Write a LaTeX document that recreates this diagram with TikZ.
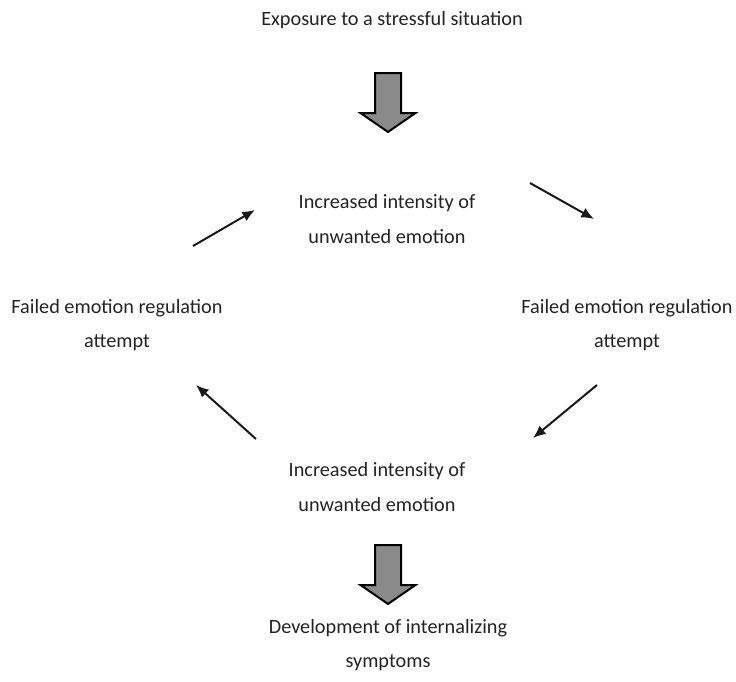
\documentclass[tikz,border=0pt]{standalone}
\usepackage{fontspec}
\setmainfont{Carlito}
\usepackage{xcolor}
\usepackage{tikz}
\usetikzlibrary{arrows.meta, positioning, calc}

\definecolor{arrowgray}{RGB}{138,138,138}
\definecolor{textgray}{RGB}{35,35,35}

\begin{document}
\begin{tikzpicture}[
    x=0.75pt, y=-0.75pt,
    font=\fontsize{15.2}{26}\selectfont,
    label/.style={align=center, text=textgray, inner sep=0pt},
    arrow/.style={-{Latex[length=9.5pt, width=8pt]}, line width=1.5pt, black!90},
    bigarrow/.pic={
        \draw[fill=arrowgray, line width=1.5pt, line join=miter]
            (-13,0) -- (13,0) -- (13,40) -- (27.5,40) -- (0,59)
            -- (-27.5,40) -- (-13,40) -- cycle;
    }
]
\useasboundingbox (0,0) rectangle (736,682);

% Stress at the top
\node[label] (stress) at (392,20) {Exposure to a stressful situation};
\pic at (388,73) {bigarrow};

% Cycle
\node[label] (emoTop) at (387,219) {Increased intensity of\\unwanted emotion};
\node[label] (failRight) at (627,325) {Failed emotion regulation\\attempt};
\node[label] (emoBottom) at (377,487) {Increased intensity of\\unwanted emotion};
\node[label] (failLeft) at (117,325) {Failed emotion regulation\\attempt};

% Arrow ends
\coordinate (a1) at (193,246);
\coordinate (a2) at (255,210);
\coordinate (b1) at (530,183);
\coordinate (b2) at (594,219);
\coordinate (c1) at (597,385);
\coordinate (c2) at (533,438);
\coordinate (d1) at (256,439);
\coordinate (d2) at (196,385);

\draw[arrow] (a1) -- (a2);
\draw[arrow] (b1) -- (b2);
\draw[arrow] (c1) -- (c2);
\draw[arrow] (d1) -- (d2);

% Outcome
\pic at (388,545) {bigarrow};
\node[label] (symptoms) at (388,645) {Development of internalizing\\symptoms};
\end{tikzpicture}
\end{document}
